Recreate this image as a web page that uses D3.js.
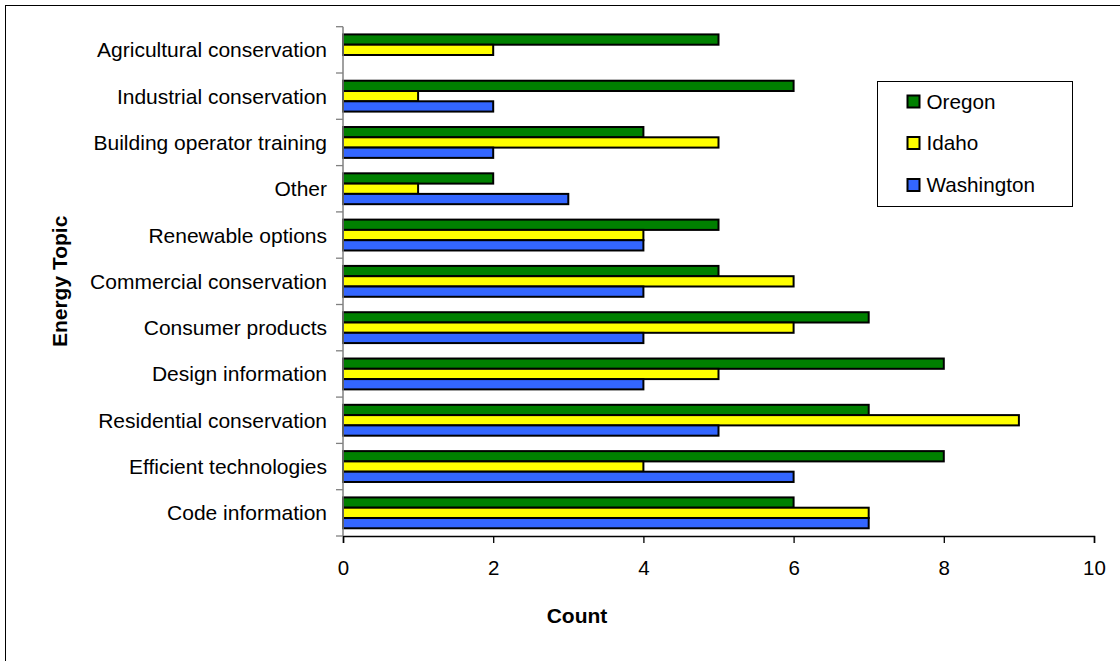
<!DOCTYPE html>
<html><head><meta charset="utf-8">
<script src="https://cdn.jsdelivr.net/npm/d3@7"></script>
<style>body{margin:0;background:#fff;font-family:Arial,"Liberation Sans",sans-serif;}</style>
</head><body>
<svg id="c" width="1120" height="661"></svg>
<script>
const categories = ["Agricultural conservation","Industrial conservation","Building operator training","Other","Renewable options","Commercial conservation","Consumer products","Design information","Residential conservation","Efficient technologies","Code information"];
const seriesNames = ["Oregon","Idaho","Washington"];
const oregon     = [5,6,4,2,5,5,7,8,7,8,6];
const idaho      = [2,1,5,1,4,6,6,5,9,4,7];
const washington = [0,2,2,3,4,4,4,4,5,6,7];
const colors = ["#008000","#FFFF00","#3366FF"];
const xTicks = [0,2,4,6,8,10];

const FONT = "Arial, 'Liberation Sans', sans-serif";
const svg = d3.select("#c").attr("font-family",FONT);
svg.append("rect").attr("x",5.5).attr("y",5.5).attr("width",1200).attr("height",800)
  .attr("fill","#fff").attr("stroke","#000").attr("stroke-width",1);

const L=343, R=1094, T=26.7, B=536;
const x = d3.scaleLinear().domain([0,10]).range([L,R]);
const y = d3.scaleBand().domain(categories).range([T,B]).paddingInner(1/3).paddingOuter(1/6);
const sub = d3.scaleBand().domain(seriesNames).range([0,y.bandwidth()]);
const data = [oregon,idaho,washington];

// bars
const g = svg.append("g");
categories.forEach((c,i)=>{
  seriesNames.forEach((s,j)=>{
    const v=data[j][i];
    if(v<=0) return;
    g.append("rect").attr("x",x(0)).attr("y",y(c)+sub(s))
      .attr("width",x(v)-x(0)).attr("height",sub.bandwidth())
      .attr("fill",colors[j]).attr("stroke","#000").attr("stroke-width",2);
  });
});

// x axis
const xa = svg.append("g").attr("transform",`translate(0,${B})`)
  .call(d3.axisBottom(x).tickValues(xTicks).tickSize(7).tickPadding(0));
xa.select(".domain").attr("stroke","#000").attr("stroke-width",1.5);
xa.selectAll(".tick line").attr("stroke","#000").attr("stroke-width",1.3);
xa.selectAll("text").attr("font-size",20.5).attr("font-family",FONT).attr("fill","#000")
  .attr("dy",null).attr("y",38.5);

// y axis
const step = (B-T)/categories.length;
const yl = svg.append("g");
yl.append("line").attr("x1",L).attr("x2",L).attr("y1",T).attr("y2",B).attr("stroke","#808080").attr("stroke-width",1.5);
d3.range(categories.length+1).forEach(k=>{
  yl.append("line").attr("x1",L-7).attr("x2",L).attr("y1",T+k*step).attr("y2",T+k*step).attr("stroke","#808080").attr("stroke-width",1.3);
});
categories.forEach(c=>{
  yl.append("text").attr("x",L-16).attr("y",y(c)+y.bandwidth()/2+7.5)
    .attr("text-anchor","end").attr("font-size",21).text(c);
});

// axis titles
svg.append("text").attr("x",577).attr("y",623).attr("text-anchor","middle")
  .attr("font-size",21).attr("font-weight","bold").text("Count");
svg.append("text").attr("transform",`translate(67,${(T+B)/2}) rotate(-90)`).attr("text-anchor","middle")
  .attr("font-size",21).attr("font-weight","bold").text("Energy Topic");

// legend
const lg = svg.append("g");
lg.append("rect").attr("x",877.5).attr("y",81.5).attr("width",195).attr("height",125)
  .attr("fill","#fff").attr("stroke","#000").attr("stroke-width",1);
const lys=[101.5,143,185];
seriesNames.forEach((s,j)=>{
  lg.append("rect").attr("x",907.5).attr("y",lys[j]-6).attr("width",12).attr("height",12)
    .attr("fill",colors[j]).attr("stroke","#000").attr("stroke-width",2);
  lg.append("text").attr("x",926.5).attr("y",lys[j]+7.4).attr("font-size",20.7).text(s);
});
</script>
</body></html>
